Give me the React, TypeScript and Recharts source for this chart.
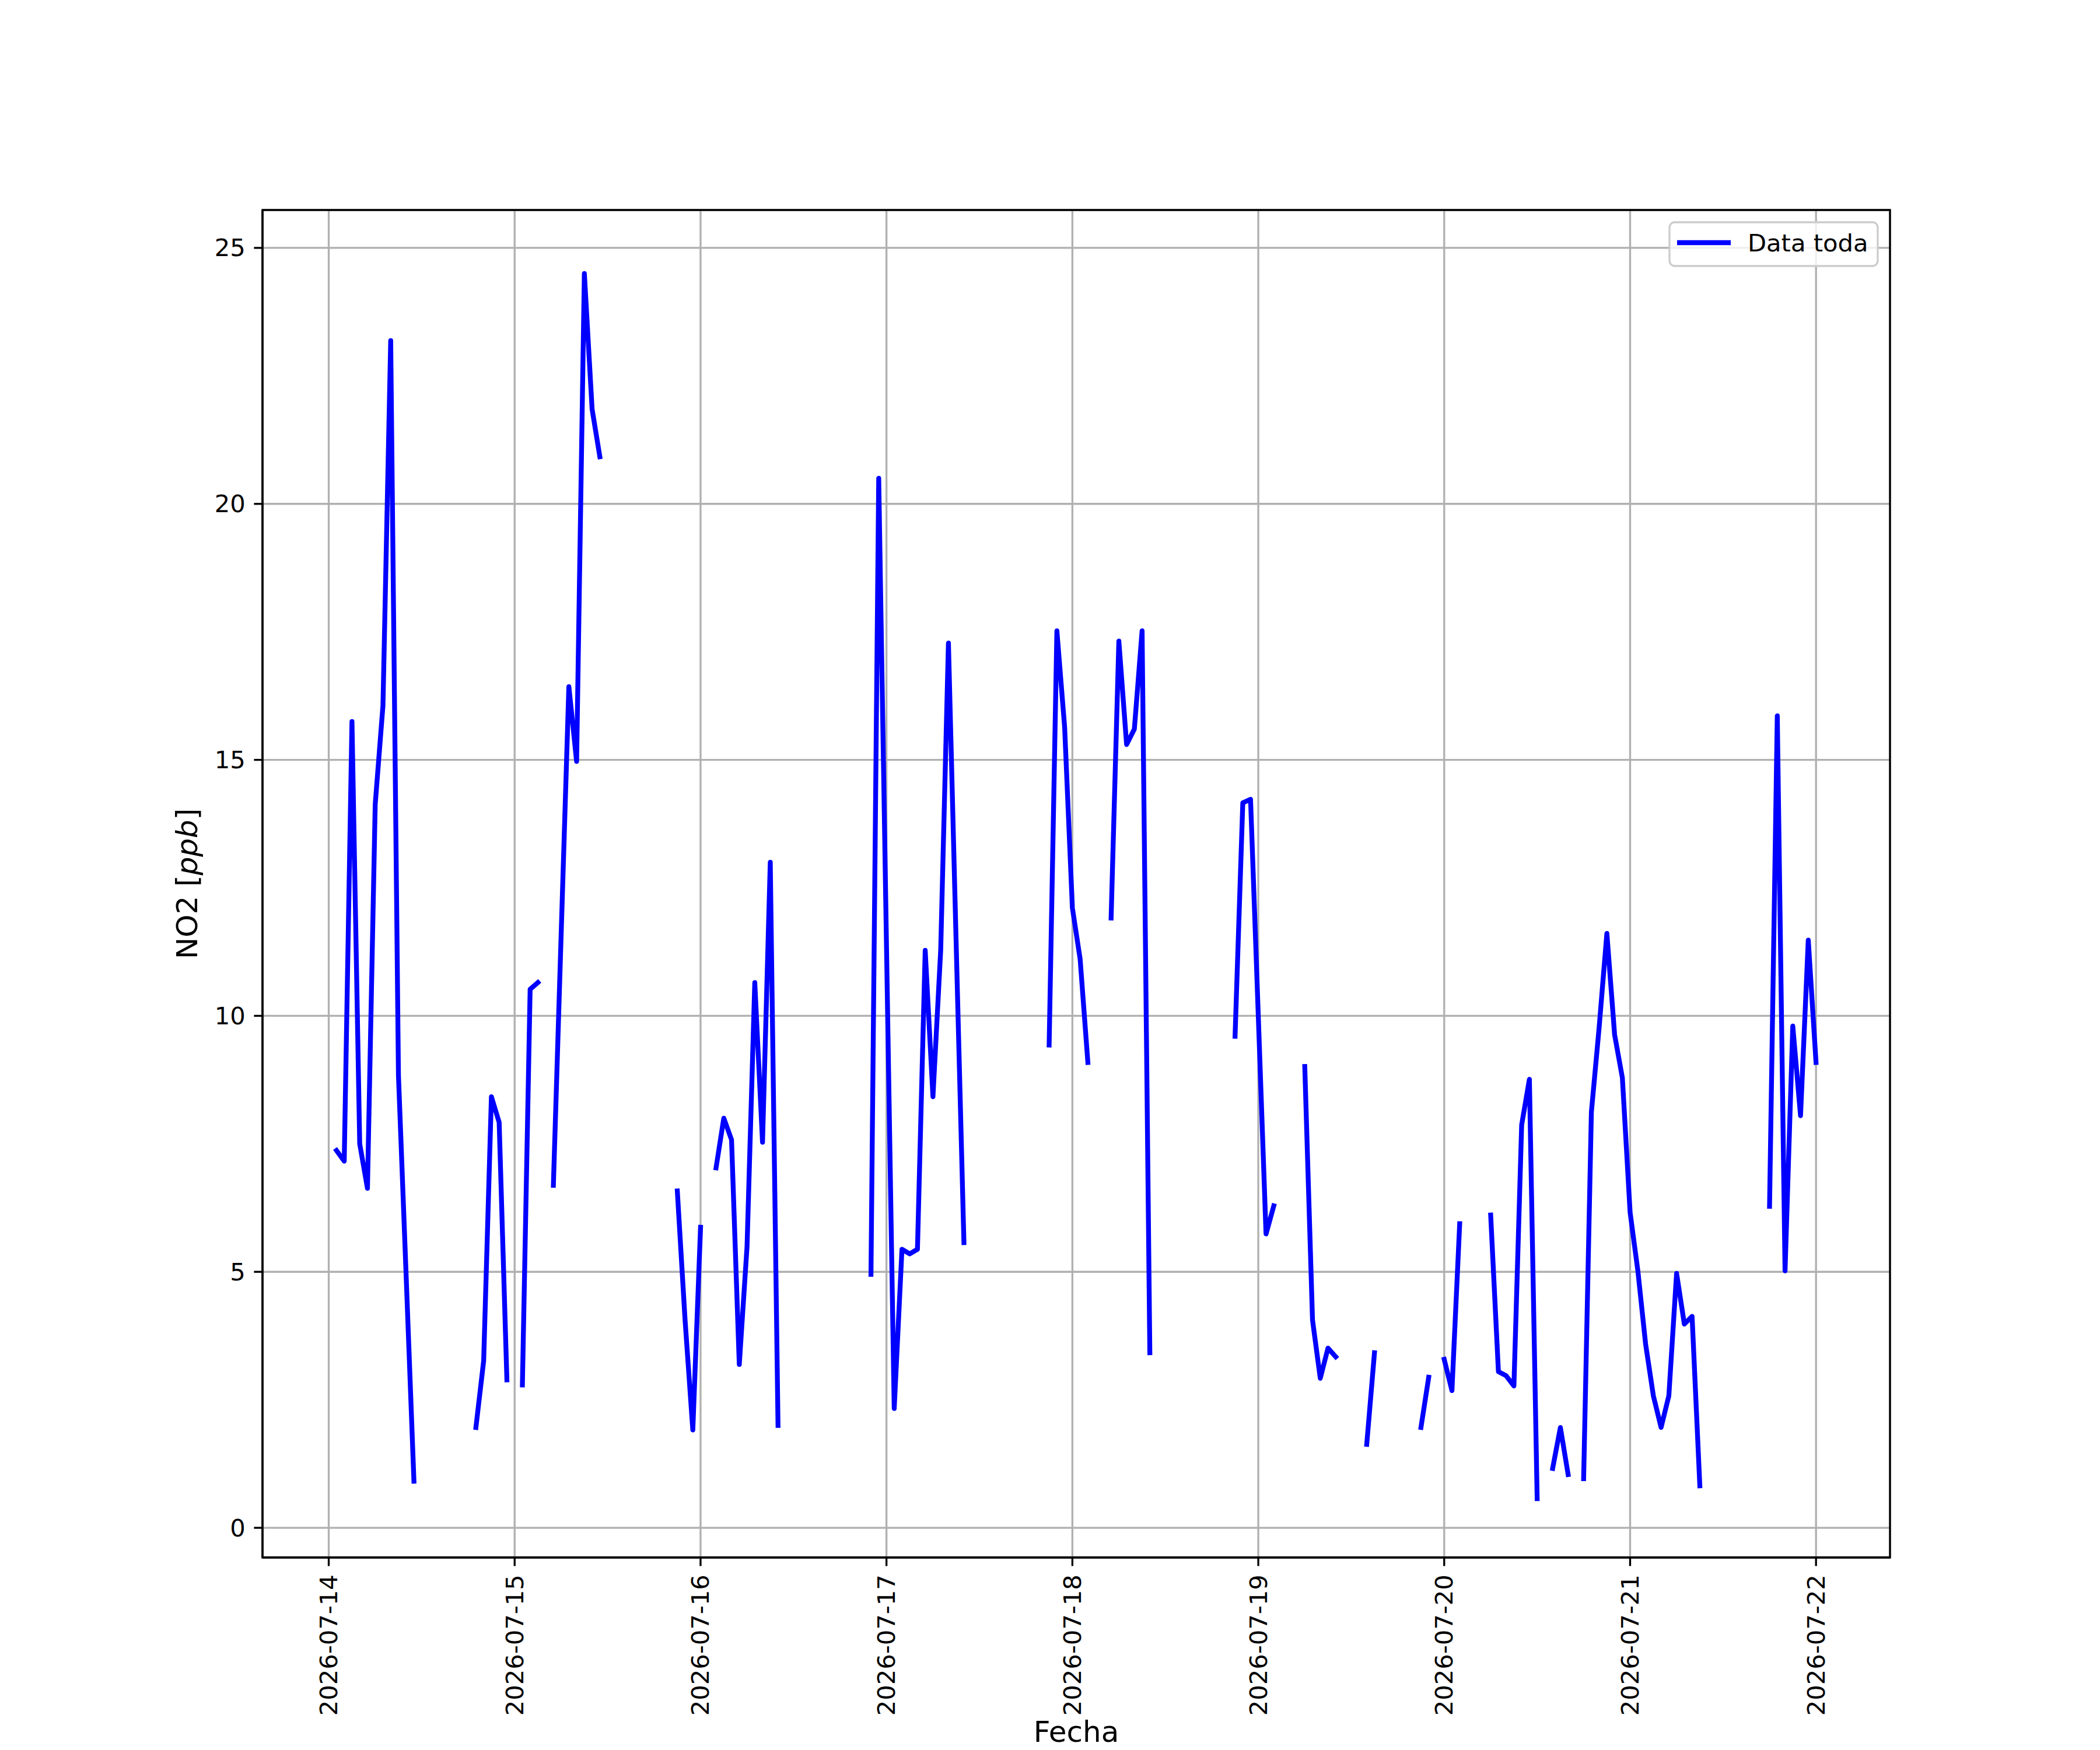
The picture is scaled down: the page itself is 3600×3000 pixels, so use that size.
import React from 'react';
import {
  LineChart,
  Line,
  XAxis,
  YAxis,
  CartesianGrid,
  Legend,
  ReferenceArea,
  Label,
} from 'recharts';

// Hourly NO2 [ppb] readings, one array per day (first value = 01:00 of that day's window)
const FIRST_HOUR = 1; // hours since 2026-07-14 00:00
const NO2_DAY1 = [7.37, 7.16, 15.75, 7.5, 6.63, 14.13, 16.06, 23.19, 8.84, 4.9, 0.91, null, null, null, null, null, null, null, 1.96, 3.26, 8.42, 7.92, 2.89, null];
const NO2_DAY2 = [2.79, 10.52, 10.65, null, 6.69, 11.57, 16.43, 14.97, 24.5, 21.85, 20.92, null, null, null, null, null, null, null, null, null, 6.58, 4.06, 1.91, 5.87];
const NO2_DAY3 = [null, 7.03, 8.0, 7.58, 3.19, 5.49, 10.65, 7.53, 13.0, 2.0, null, null, null, null, null, null, null, null, null, null, null, 4.95, 20.5, 11.4];
const NO2_DAY4 = [2.33, 5.44, 5.35, 5.44, 11.28, 8.42, 11.28, 17.28, 11.4, 5.57, null, null, null, null, null, null, null, null, null, null, 9.43, 17.52, 15.64, 12.11];
const NO2_DAY5 = [11.11, 9.09, null, null, 11.91, 17.32, 15.3, 15.6, 17.52, 3.42, null, null, null, null, null, null, null, null, null, null, 9.6, 14.16, 14.23, 10.0];
const NO2_DAY6 = [5.74, 6.29, null, null, null, 9.01, 4.06, 2.92, 3.51, 3.34, null, null, null, 1.63, 3.42, null, null, null, null, null, 1.96, 2.94, null, 3.29];
const NO2_DAY7 = [2.68, 5.94, null, null, null, 6.11, 3.05, 2.97, 2.77, 7.87, 8.76, 0.57, null, 1.16, 1.96, 1.04, null, 0.96, 8.12, 9.77, 11.61, 9.63, 8.79, 6.16];
const NO2_DAY8 = [5.02, 3.59, 2.58, 1.96, 2.58, 4.97, 3.98, 4.13, 0.82, null, null, null, null, null, null, null, null, 6.28, 15.86, 5.02, 9.8, 8.05, 11.48, 9.09];

const X_TICK_HOURS = [0, 24, 48, 72, 96, 120, 144, 168, 192];
const X_TICK_LABELS = ['2026-07-14', '2026-07-15', '2026-07-16', '2026-07-17', '2026-07-18', '2026-07-19', '2026-07-20', '2026-07-21', '2026-07-22'];
const Y_TICKS = [0, 5, 10, 15, 20, 25];

const X_DOMAIN: [number, number] = [-8.55, 201.55];
const Y_DOMAIN: [number, number] = [-0.58, 25.74];

const SERIES_NAME = 'Data toda';

const allValues = [
  ...NO2_DAY1, ...NO2_DAY2, ...NO2_DAY3, ...NO2_DAY4,
  ...NO2_DAY5, ...NO2_DAY6, ...NO2_DAY7, ...NO2_DAY8,
];
const data = allValues.map((v, i) => ({ hour: FIRST_HOUR + i, no2: v }));

const FONT = "'DejaVu Sans', sans-serif";
const TICK_FS = 41.67;
const LABEL_FS = 50;
const LW = 3.33;
const SERIES_LW = 8.3;

const XTick = (props: any) => {
  const { x, y, payload } = props;
  const idx = X_TICK_HOURS.indexOf(payload.value);
  const label = idx >= 0 ? X_TICK_LABELS[idx] : '';
  return (
    <text
      x={x}
      y={y}
      transform={`rotate(-90 ${x} ${y})`}
      textAnchor="end"
      dominantBaseline="central"
      fontSize={TICK_FS}
      fontFamily={FONT}
      fill="#000"
    >
      {label}
    </text>
  );
};

const YTick = (props: any) => {
  const { x, y, payload } = props;
  return (
    <text
      x={x}
      y={y}
      textAnchor="end"
      dominantBaseline="central"
      fontSize={TICK_FS}
      fontFamily={FONT}
      fill="#000"
    >
      {payload.value}
    </text>
  );
};

const XTitle = (props: any) => {
  const vb = props.viewBox || { x: 450, y: 2670, width: 2790, height: 330 };
  return (
    <text
      x={vb.x + vb.width / 2}
      y={vb.y + 316}
      textAnchor="middle"
      fontSize={LABEL_FS}
      fontFamily={FONT}
      fill="#000"
    >
      Fecha
    </text>
  );
};

const YTitle = (props: any) => {
  const vb = props.viewBox || { x: 0, y: 360, width: 450, height: 2310 };
  const cx = 321;
  const cy = vb.y + vb.height / 2;
  return (
    <text
      x={cx}
      y={cy}
      transform={`rotate(-90 ${cx} ${cy})`}
      textAnchor="middle"
      dominantBaseline="central"
      fontSize={LABEL_FS}
      fontFamily={FONT}
      fill="#000"
    >
      NO2 [<tspan fontStyle="italic">ppb</tspan>]
    </text>
  );
};

const LegendBox = () => (
  <svg width={362} height={80} style={{ display: 'block' }}>
    <rect x={2} y={2} width={357} height={75} rx={9} ry={9} fill="rgba(255,255,255,0.8)" stroke="#cccccc" strokeWidth={3.3} />
    <line x1={15} y1={37} x2={107} y2={37} stroke="#0000ff" strokeWidth={SERIES_LW} strokeLinecap="butt" />
    <text x={136} y={52} fontSize={TICK_FS} fontFamily={FONT} fill="#000">{SERIES_NAME}</text>
  </svg>
);

export default function App() {
  return (
    <div style={{ position: 'absolute', left: 0, top: 0, width: 3600, height: 3000, background: '#fff' }}>
      <style>{`body{margin:0;background:#fff}`}</style>
      <LineChart
        width={3600}
        height={3000}
        data={data}
        margin={{ top: 360, right: 360, left: 0, bottom: 0 }}
      >
        <CartesianGrid stroke="#b0b0b0" strokeWidth={LW} />
        <XAxis
          dataKey="hour"
          type="number"
          domain={X_DOMAIN}
          allowDataOverflow
          ticks={X_TICK_HOURS}
          interval={0}
          height={330}
          tick={<XTick />}
          tickSize={14.6}
          tickMargin={14.6}
          tickLine={{ stroke: '#000', strokeWidth: LW }}
          axisLine={{ stroke: '#000', strokeWidth: LW }}
        >
          <Label content={<XTitle />} />
        </XAxis>
        <YAxis
          type="number"
          domain={Y_DOMAIN}
          allowDataOverflow
          ticks={Y_TICKS}
          interval={0}
          width={450}
          tick={<YTick />}
          tickSize={14.6}
          tickMargin={14.6}
          tickLine={{ stroke: '#000', strokeWidth: LW }}
          axisLine={{ stroke: '#000', strokeWidth: LW }}
        >
          <Label content={<YTitle />} />
        </YAxis>
        <Line
          type="linear"
          dataKey="no2"
          name={SERIES_NAME}
          stroke="#0000ff"
          strokeWidth={SERIES_LW}
          strokeLinecap="square"
          strokeLinejoin="round"
          dot={false}
          activeDot={false}
          connectNulls={false}
          isAnimationActive={false}
        />
        <ReferenceArea
          x1={X_DOMAIN[0]}
          x2={X_DOMAIN[1]}
          y1={Y_DOMAIN[0]}
          y2={Y_DOMAIN[1]}
          fill="none"
          fillOpacity={0}
          stroke="#000"
          strokeWidth={LW}
          ifOverflow="visible"
        />
        <Legend
          layout="vertical"
          align="center"
          verticalAlign="middle"
          wrapperStyle={{ left: 2860, top: 379, width: 362, height: 80 }}
          content={<LegendBox />}
        />
      </LineChart>
    </div>
  );
}
